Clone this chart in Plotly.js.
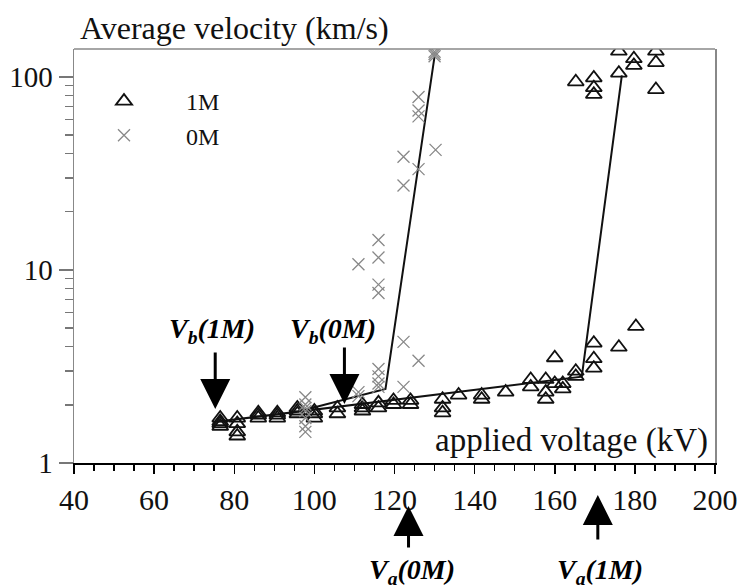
<!DOCTYPE html>
<html>
<head>
<meta charset="utf-8">
<script src="https://cdn.plot.ly/plotly-3.0.1.min.js"></script>
<style>html,body{margin:0;padding:0;background:#fff;}#chart{width:741px;height:588px;}</style>
</head>
<body>
<div id="chart"></div>
<script>
// Series 1M (triangles): applied voltage (kV) and average velocity (km/s)
var v1M_x = [76.5,76.5,76.5,76.5, 80.75,80.75,80.75,80.75, 86,86,86, 90.75,90.75,90.75, 95.75,95.75,95.75,
  100,100,100, 105.75,105.75, 112,112,112, 116,116, 119.75,119.75, 124,124, 132,132,132, 136,
  141.75,141.75, 147.75, 154,154, 157.75,157.75,157.75, 160,160, 162,162, 165.25,165.25,
  169.75,169.75,169.75, 176, 180.25, 165.25, 169.75,169.75,169.75, 176,176, 179.75,179.75,
  185.25,185.25,185.25];
var v1M_y = [1.64,1.55,1.71,1.60, 1.71,1.60,1.45,1.38, 1.82,1.71,1.77, 1.82,1.71,1.77, 1.86,1.80,1.93,
  1.80,1.86,1.71, 1.93,1.80, 2.01,1.93,1.86, 2.05,1.93, 2.11,2.01, 2.11,2.01, 2.14,1.93,1.82, 2.25,
  2.25,2.14, 2.33, 2.48,2.71, 2.71,2.33,2.14, 3.51,2.58, 2.42,2.58, 2.81,2.99,
  3.10,3.47,4.18, 3.98, 5.10, 94.4, 98.9,88.1,81.3, 136,104.7, 114.8,124.4,
  136,118.8,86.1];

// Series 0M (crosses)
var v0M_x = [97.75,97.75,97.75,97.75,97.75,97.75,97.75, 111,111,111,
  116,116,116,116, 116,116,116,116, 122.25,122.25,122.25,122.25,
  126,126,126,126,126, 130.25, 130,130,130];
var v0M_y = [2.19,2.01,1.86,1.71,1.55,1.45,1.93, 2.22,2.33,10.7,
  3.07,2.81,2.58,2.48, 7.6,8.4,11.6,14.3, 2.48,4.24,27.4,38.6,
  3.39,33.3,62.5,67.0,78.7, 41.9, 128,131.6,135];

// Fitted piecewise lines
var fit1M_x = [76, 166.75, 176.75];
var fit1M_y = [1.64, 2.80, 102];
var fit0M_x = [96, 117.75, 130];
var fit0M_y = [1.85, 2.42, 128];

// Threshold arrows (kV)
var arrowNames = ['V<sub>b</sub>(1M)', 'V<sub>b</sub>(0M)', 'V<sub>a</sub>(0M)', 'V<sub>a</sub>(1M)'];
var arrowKV = [75.25, 107.5, 123.5, 170.75];

var FONT = '"Liberation Serif", "Times New Roman", serif';

var traces = [
  {x: fit1M_x, y: fit1M_y, mode: 'lines', line: {color: '#111', width: 2}, showlegend: false, hoverinfo: 'skip'},
  {x: fit0M_x, y: fit0M_y, mode: 'lines', line: {color: '#111', width: 2}, showlegend: false, hoverinfo: 'skip'},
  {x: v1M_x, y: v1M_y, mode: 'markers', name: '\u00a0\u00a0\u00a0\u00a0\u00a0\u00a0\u00a01M',
   marker: {symbol: 'triangle-up-open', size: 14, color: '#111', line: {width: 1.8, color: '#111'}}},
  {x: v0M_x, y: v0M_y, mode: 'markers', name: '\u00a0\u00a0\u00a0\u00a0\u00a0\u00a0\u00a00M',
   marker: {symbol: 'x-thin-open', size: 12, color: '#888', line: {width: 1.3, color: '#888'}}}
];

function py(p) { return (463 - p) / 414; }

var annotations = [
  {xref: 'paper', yref: 'paper', x: 0.992, y: py(440), xanchor: 'right', yanchor: 'middle',
   text: 'applied voltage (kV)', showarrow: false, font: {family: FONT, size: 33, color: '#111'}},
  // arrows
  {xref: 'x', yref: 'paper', x: arrowKV[0], y: py(409), ax: 0, ay: -58, text: '', showarrow: true,
   arrowhead: 2, arrowsize: 2, arrowwidth: 3, arrowcolor: '#000'},
  {xref: 'x', yref: 'paper', x: arrowKV[1], y: py(404), ax: 0, ay: -58, text: '', showarrow: true,
   arrowhead: 2, arrowsize: 2, arrowwidth: 3, arrowcolor: '#000'},
  {xref: 'x', yref: 'paper', x: arrowKV[2], y: py(506), ax: 0, ay: 43, text: '', showarrow: true,
   arrowhead: 2, arrowsize: 2, arrowwidth: 3, arrowcolor: '#000'},
  {xref: 'x', yref: 'paper', x: arrowKV[3], y: py(495), ax: 0, ay: 46, text: '', showarrow: true,
   arrowhead: 2, arrowsize: 2, arrowwidth: 3, arrowcolor: '#000'},
  // labels
  {xref: 'paper', yref: 'paper', x: (212 - 74) / 641, y: py(330), xanchor: 'center', yanchor: 'middle',
   text: '<b><i>' + arrowNames[0] + '</i></b>', showarrow: false, font: {family: FONT, size: 28, color: '#000'}},
  {xref: 'paper', yref: 'paper', x: (333 - 74) / 641, y: py(330), xanchor: 'center', yanchor: 'middle',
   text: '<b><i>' + arrowNames[1] + '</i></b>', showarrow: false, font: {family: FONT, size: 28, color: '#000'}},
  {xref: 'paper', yref: 'paper', x: (412 - 74) / 641, y: py(571), xanchor: 'center', yanchor: 'middle',
   text: '<b><i>' + arrowNames[2] + '</i></b>', showarrow: false, font: {family: FONT, size: 28, color: '#000'}},
  {xref: 'paper', yref: 'paper', x: (600 - 74) / 641, y: py(571), xanchor: 'center', yanchor: 'middle',
   text: '<b><i>' + arrowNames[3] + '</i></b>', showarrow: false, font: {family: FONT, size: 28, color: '#000'}}
];

var layout = {
  width: 741, height: 588,
  margin: {l: 74, r: 26, t: 49, b: 125},
  paper_bgcolor: '#fff', plot_bgcolor: '#fff',
  font: {family: FONT, color: '#111'},
  title: {text: 'Average velocity (km/s)', x: 80 / 741, xanchor: 'left', y: 1 - 28 / 588, yanchor: 'middle',
          font: {family: FONT, size: 32, color: '#111'}},
  showlegend: true,
  legend: {x: (104 - 74) / 641, xanchor: 'left', y: py(79), yanchor: 'top', bgcolor: 'rgba(0,0,0,0)',
           font: {family: FONT, size: 24, color: '#111'}, tracegroupgap: 0},
  xaxis: {range: [40, 200], tick0: 40, dtick: 20, ticks: 'outside', ticklen: 9, tickwidth: 1.5, tickcolor: '#000',
          showline: true, linecolor: '#000', linewidth: 2, showgrid: false, zeroline: false, mirror: false,
          tickfont: {family: FONT, size: 30, color: '#111'},
          minor: {dtick: 5, ticks: 'outside', ticklen: 6, tickwidth: 1.5, tickcolor: '#000', showgrid: false}},
  yaxis: {type: 'log', range: [0, 2.145], tickvals: [1, 10, 100], ticktext: ['1', '10', '100'],
          ticks: 'outside', ticklen: 14, tickwidth: 1.2, tickcolor: '#777',
          showline: true, linecolor: '#888', linewidth: 1.5, mirror: true, showgrid: false, zeroline: false,
          tickfont: {family: FONT, size: 29, color: '#111'},
          minor: {dtick: 'D1', ticks: 'outside', ticklen: 8, tickwidth: 1.2, tickcolor: '#777', showgrid: false}},
  shapes: [{type: 'line', xref: 'paper', yref: 'paper', x0: 0, x1: 1, y0: 1, y1: 1, line: {color: '#888', width: 1.5}}],
  annotations: annotations
};

Plotly.newPlot('chart', traces, layout, {displayModeBar: false, staticPlot: true});
</script>
</body>
</html>
